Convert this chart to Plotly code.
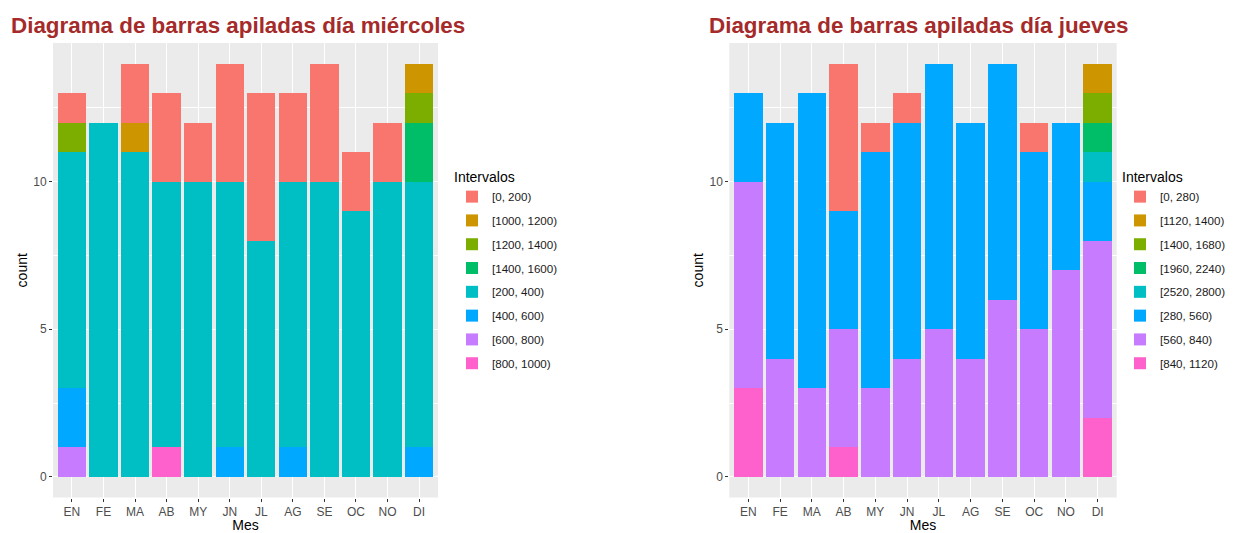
import plotly.graph_objects as go

meses = ["EN", "FE", "MA", "AB", "MY", "JN", "JL", "AG", "SE", "OC", "NO", "DI"]

# Miércoles: intervals in legend order
mie_levels = ["[0, 200)", "[1000, 1200)", "[1200, 1400)", "[1400, 1600)",
              "[200, 400)", "[400, 600)", "[600, 800)", "[800, 1000)"]
mie_0_200     = [1, 0, 2, 3, 2, 4, 5, 3, 4, 2, 2, 0]
mie_1000_1200 = [0, 0, 1, 0, 0, 0, 0, 0, 0, 0, 0, 1]
mie_1200_1400 = [1, 0, 0, 0, 0, 0, 0, 0, 0, 0, 0, 1]
mie_1400_1600 = [0, 0, 0, 0, 0, 0, 0, 0, 0, 0, 0, 2]
mie_200_400   = [8, 12, 11, 9, 10, 9, 8, 9, 10, 9, 10, 9]
mie_400_600   = [2, 0, 0, 0, 0, 1, 0, 1, 0, 0, 0, 1]
mie_600_800   = [1, 0, 0, 0, 0, 0, 0, 0, 0, 0, 0, 0]
mie_800_1000  = [0, 0, 0, 1, 0, 0, 0, 0, 0, 0, 0, 0]
mie_values = [mie_0_200, mie_1000_1200, mie_1200_1400, mie_1400_1600,
              mie_200_400, mie_400_600, mie_600_800, mie_800_1000]

# Jueves
jue_levels = ["[0, 280)", "[1120, 1400)", "[1400, 1680)", "[1960, 2240)",
              "[2520, 2800)", "[280, 560)", "[560, 840)", "[840, 1120)"]
jue_0_280     = [0, 0, 0, 5, 1, 1, 0, 0, 0, 1, 0, 0]
jue_1120_1400 = [0, 0, 0, 0, 0, 0, 0, 0, 0, 0, 0, 1]
jue_1400_1680 = [0, 0, 0, 0, 0, 0, 0, 0, 0, 0, 0, 1]
jue_1960_2240 = [0, 0, 0, 0, 0, 0, 0, 0, 0, 0, 0, 1]
jue_2520_2800 = [0, 0, 0, 0, 0, 0, 0, 0, 0, 0, 0, 1]
jue_280_560   = [3, 8, 10, 4, 8, 8, 9, 8, 8, 6, 5, 2]
jue_560_840   = [7, 4, 3, 4, 3, 4, 5, 4, 6, 5, 7, 6]
jue_840_1120  = [3, 0, 0, 1, 0, 0, 0, 0, 0, 0, 0, 2]
jue_values = [jue_0_280, jue_1120_1400, jue_1400_1680, jue_1960_2240,
              jue_2520_2800, jue_280_560, jue_560_840, jue_840_1120]

colors = ["#F8766D", "#CD9600", "#7CAE00", "#00BE67",
          "#00BFC4", "#00A9FF", "#C77CFF", "#FF61CC"]

fig = go.Figure()

# add bottom-first so stacking matches ggplot (first level on top)
for i in reversed(range(len(mie_levels))):
    fig.add_trace(go.Bar(
        x=meses, y=mie_values[i], name=mie_levels[i],
        marker=dict(color=colors[i], line=dict(width=0)),
        xaxis="x", yaxis="y", legend="legend",
        legendgroup="m" + str(i), legendrank=i + 1, width=0.9,
    ))
for i in reversed(range(len(jue_levels))):
    fig.add_trace(go.Bar(
        x=meses, y=jue_values[i], name=jue_levels[i],
        marker=dict(color=colors[i], line=dict(width=0)),
        xaxis="x2", yaxis="y2", legend="legend2",
        legendgroup="j" + str(i), legendrank=i + 1, width=0.9,
    ))

FONT = "Liberation Sans, Arial, sans-serif"
W, H = 1220, 525
ydom = [0.0676, 0.9333]

def xax(domain, anchor):
    return dict(domain=domain, anchor=anchor, type="category",
                categoryorder="array", categoryarray=meses,
                range=[-0.6, 11.6], showgrid=True, gridcolor="white", gridwidth=1.1,
                ticks="outside", ticklen=3, tickcolor="#333333", tickwidth=1,
                tickfont=dict(family=FONT, size=12, color="#4D4D4D"),
                title=dict(text="Mes", font=dict(family=FONT, size=14, color="black"), standoff=0),
                zeroline=False, showline=False, fixedrange=True)

def yax(domain, anchor):
    return dict(domain=domain, anchor=anchor, range=[-0.7, 14.7],
                tickvals=[0, 5, 10], showgrid=True, gridcolor="white", gridwidth=1.1,
                minor=dict(tickvals=[2.5, 7.5, 12.5], showgrid=True, gridcolor="white",
                           gridwidth=0.5, ticks=""),
                ticks="outside", ticklen=3, tickcolor="#333333", tickwidth=1,
                tickfont=dict(family=FONT, size=12, color="#4D4D4D"),
                title=dict(text="count", font=dict(family=FONT, size=14, color="black"), standoff=2),
                zeroline=False, showline=False, fixedrange=True)

leg_common = dict(traceorder="grouped", tracegroupgap=4.8,
                  font=dict(family=FONT, size=11.6, color="#1A1A1A"),
                  bgcolor="rgba(0,0,0,0)", itemclick=False, itemdoubleclick=False,
                  xanchor="left", yanchor="top")

fig.update_layout(
    width=W, height=H,
    margin=dict(l=0, r=0, t=0, b=0, autoexpand=False),
    paper_bgcolor="white", plot_bgcolor="#EBEBEB",
    barmode="stack", bargap=0.1,
    font=dict(family=FONT),
    xaxis=xax([45 / W, 430 / W], "y"),
    yaxis=yax(ydom, "x"),
    xaxis2=xax([721.3 / W, 1108.7 / W], "y2"),
    yaxis2=yax(ydom, "x2"),
    legend=dict(x=444 / W, y=0.703,
                title=dict(text="Intervalos", font=dict(family=FONT, size=14, color="black")),
                **leg_common),
    legend2=dict(x=1112 / W, y=0.703,
                 title=dict(text="Intervalos", font=dict(family=FONT, size=14, color="black")),
                 **leg_common),
    annotations=[
        dict(text="<b>Diagrama de barras apiladas día miércoles</b>", xref="paper", yref="paper",
             x=1.2 / W, y=0.9676, xanchor="left", yanchor="middle", showarrow=False,
             font=dict(family=FONT, size=22.4, color="#A52A2A")),
        dict(text="<b>Diagrama de barras apiladas día jueves</b>", xref="paper", yref="paper",
             x=699.2 / W, y=0.9676, xanchor="left", yanchor="middle", showarrow=False,
             font=dict(family=FONT, size=22.4, color="#A52A2A")),
    ],
)

fig.write_html("out.html")
